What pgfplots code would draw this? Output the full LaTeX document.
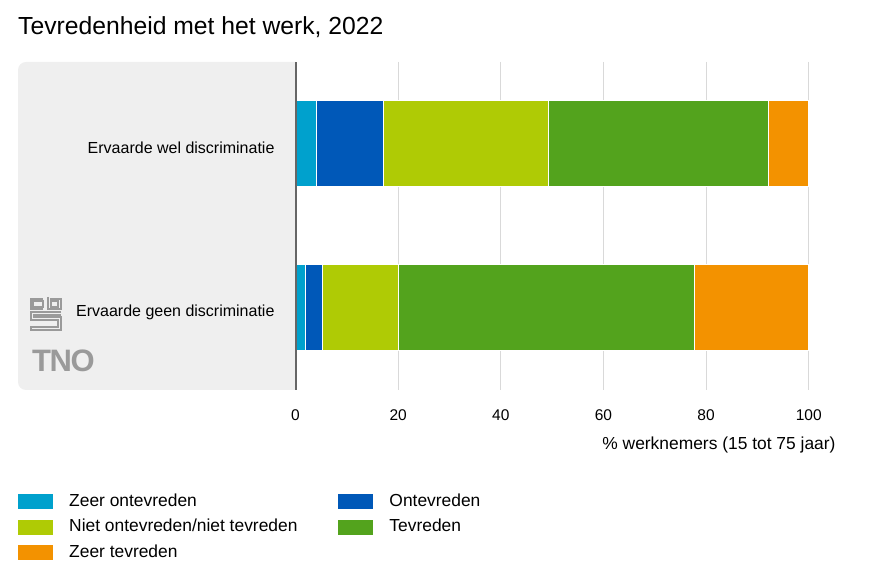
\documentclass[border=0pt]{standalone}
\usepackage{pgfplots}
\pgfplotsset{compat=1.18}
\usepackage{fontspec}
\setmainfont{Liberation Sans}

\definecolor{zeeront}{HTML}{00A1CD}
\definecolor{ontevr}{HTML}{0058B8}
\definecolor{neutraal}{HTML}{AFCB05}
\definecolor{tevr}{HTML}{53A31D}
\definecolor{zeertevr}{HTML}{F39200}
\definecolor{panel}{HTML}{EFEFEF}
\definecolor{gridc}{HTML}{D9D9D9}
\definecolor{axisc}{HTML}{666666}
\definecolor{logoc}{HTML}{9A9A9A}

\newcommand{\fs}[1]{\fontsize{#1bp}{1.2\dimexpr#1bp\relax}\selectfont}

\begin{document}
\begin{tikzpicture}[x=1bp,y=1bp]
\path[use as bounding box] (0,0) rectangle (874,583);

% title
\node[anchor=base west, inner sep=0pt] at (18,548) {\fs{24.7}Tevredenheid met het werk, 2022};

% grey panel behind the category labels
\fill[panel] (295.5,521) [rounded corners=8bp] -- (18,521) -- (18,193) [sharp corners] -- (295.5,193) -- cycle;

% logos (rough)
\begin{scope}[logoc, line width=1.1bp]
  \draw (43,284) -- (31,284) -- (31,274) -- (43,274);
  \draw (33,276) rectangle (43,282);
  \draw (48,286) -- (48,274) -- (61,274) -- (61,284) -- (50,284);
  \draw (51,276) rectangle (58,282);
  \draw (61,271) -- (31,271) -- (31,263) -- (58,263) -- (58,256) -- (31,256) -- (31,253) -- (61,253) -- (61,266) -- (34,266) -- (34,268) -- (61,268);
\end{scope}
\node[anchor=base west, inner sep=0pt, text=logoc] at (32,211) {\fs{31}\bfseries T\kern-1.5bp N\kern-1.5bp O};

\begin{axis}[
  name=ax,
  at={(295.5bp,193bp)}, anchor=south west,
  width=513.2bp, height=328bp, scale only axis,
  clip=false,
  xbar stacked, bar width=86bp,
  xmin=0, xmax=100, ymin=-0.5, ymax=1.5, y dir=reverse,
  xtick={0,20,40,60,80,100},
  ytick={0,1},
  yticklabels={Ervaarde wel discriminatie, Ervaarde geen discriminatie},
  xmajorgrids, grid style={draw=gridc, line width=1bp},
  axis line style={draw=none},
  major tick length=0pt,
  /pgf/number format/assume math mode=true,
  xticklabel style={font=\fs{15.5}, yshift=-16bp},
  yticklabel style={font=\fs{16}, anchor=east, xshift=-17.5bp, yshift=-4bp},
  xlabel={\% werknemers (15 tot 75 jaar)},
  xlabel style={font=\fs{17.4}, at={(axis description cs:1.059,-0.1677)}, anchor=east},
  legend columns=2,
  legend image code/.code={\path[#1, draw=none] (0bp,-7.5bp) rectangle (35bp,7.5bp);},
  legend style={at={(axis description cs:-0.5407,-0.3170)}, anchor=north west,
    draw=none, fill=none, inner sep=0pt, font=\fs{17.4}, row sep=10.5bp,
    nodes={inner sep=0pt, text height=12bp, text depth=3bp},
    /tikz/every odd column/.append style={column sep=16bp},
    /tikz/every even column/.append style={column sep=41bp}},
  legend cell align=left,
]
\addplot[fill=zeeront, draw=white, line width=1bp] coordinates {(4.1,0) (1.9,1)};
\addplot[fill=ontevr, draw=white, line width=1bp] coordinates {(13.1,0) (3.3,1)};
\addplot[fill=neutraal, draw=white, line width=1bp] coordinates {(32.0,0) (14.8,1)};
\addplot[fill=tevr, draw=white, line width=1bp] coordinates {(43.0,0) (57.7,1)};
\addplot[fill=zeertevr, draw=white, line width=1bp] coordinates {(7.8,0) (22.3,1)};
\legend{Zeer ontevreden, Ontevreden, Niet ontevreden/niet tevreden, Tevreden, Zeer tevreden}
\end{axis}
% y axis line on top of the bars
\draw[axisc, line width=2bp] (ax.south west) -- (ax.north west);
\end{tikzpicture}
\end{document}
